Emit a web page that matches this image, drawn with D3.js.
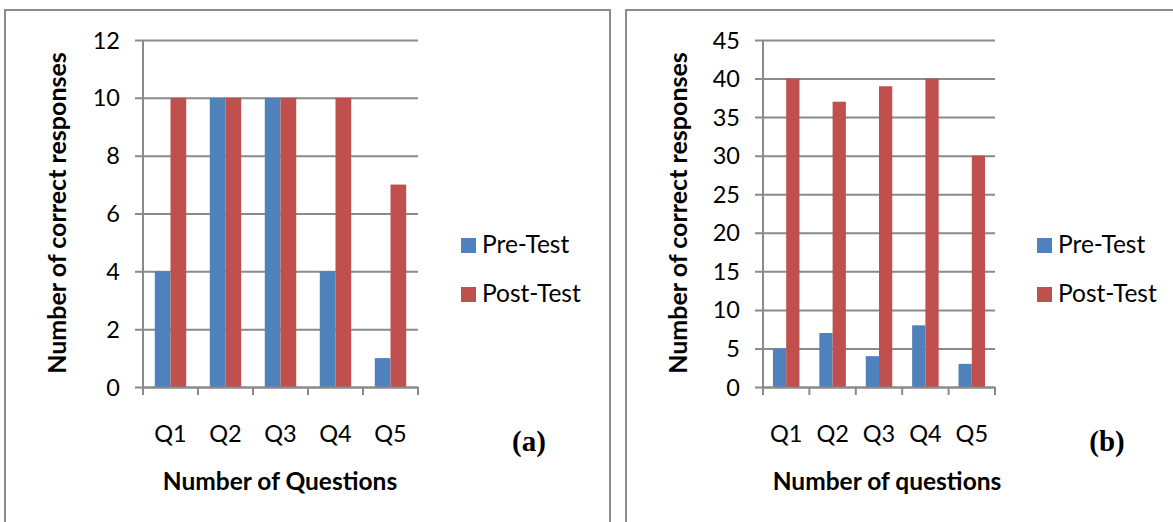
<!DOCTYPE html>
<html><head><meta charset="utf-8">
<script src="https://cdn.jsdelivr.net/npm/d3@7"></script>
<style>
html,body{margin:0;padding:0;background:#fff;}
svg{display:block;}
text{font-family:Lato,"Open Sans",sans-serif;fill:#000;}
</style></head>
<body>
<svg id="chart" width="1173" height="522"></svg>
<script>
const categories = ["Q1","Q2","Q3","Q4","Q5"];
const seriesNames = ["Pre-Test","Post-Test"];
const preTestA = [4,10,10,4,1];
const postTestA = [10,10,10,10,7];
const preTestB = [5,7,4,8,3];
const postTestB = [40,37,39,40,30];
const ticksA = [0,2,4,6,8,10,12];
const ticksB = [0,5,10,15,20,25,30,35,40,45];
const colors = ["#4F81BD","#C0504D"];

const svg = d3.select("#chart");

// panel frames
svg.append("rect").attr("x",5).attr("y",10).attr("width",605).attr("height",530)
  .attr("fill","none").attr("stroke","#8c8c8c").attr("stroke-width",2);
svg.append("rect").attr("x",626).attr("y",10).attr("width",600).attr("height",530)
  .attr("fill","none").attr("stroke","#8c8c8c").attr("stroke-width",2);

function panel(cfg){
  const g = svg.append("g");
  const x = d3.scaleBand().domain(categories).range([cfg.x0, cfg.x1]).padding(0);
  const bw = x.bandwidth();
  const gap = bw - bw/3.5*2;
  const xs = d3.scaleBand().domain(seriesNames).range([gap/2, bw-gap/2]).padding(0);
  const y = d3.scaleLinear().domain([0, cfg.max]).range([cfg.yb, cfg.yt]);

  // gridlines + y labels
  const ya = g.append("g").attr("transform",`translate(${cfg.x0},0)`)
    .call(d3.axisLeft(y).tickValues(cfg.ticks).tickSize(-(cfg.x1-cfg.x0)).tickPadding(0).tickFormat(d3.format("d")));
  ya.select(".domain").remove();
  ya.selectAll(".tick line").attr("x1",-8).attr("stroke","#8a8a8a").attr("stroke-width",2);
  ya.selectAll(".tick text").attr("x",-23).attr("dy","0.34em")
    .style("font-size","23.5px").style("font-family","Lato,'Open Sans',sans-serif").attr("fill","#000");

  // bars
  const data = categories.map((c,i)=>({c, vals:[cfg.pre[i], cfg.post[i]]}));
  const grp = g.selectAll("g.cat").data(data).join("g").attr("class","cat")
    .attr("transform",d=>`translate(${x(d.c)},0)`);
  grp.selectAll("rect").data(d=>d.vals.map((v,k)=>({s:seriesNames[k], v, k}))).join("rect")
    .attr("x",d=>xs(d.s)).attr("width",xs.bandwidth())
    .attr("y",d=>y(d.v)).attr("height",d=>y(0)-y(d.v))
    .attr("fill",d=>colors[d.k]);

  // y axis line
  g.append("line").attr("x1",cfg.x0).attr("x2",cfg.x0).attr("y1",cfg.yt).attr("y2",cfg.yb+1)
    .attr("stroke","#8a8a8a").attr("stroke-width",2);
  // x axis
  const xa = g.append("g").attr("transform",`translate(0,${cfg.yb})`)
    .call(d3.axisBottom(x).tickSize(0).tickPadding(38));
  xa.select(".domain").attr("stroke","#8a8a8a").attr("stroke-width",2);
  xa.selectAll(".tick text").style("font-size","23.5px").attr("fill","#000");
  const bounds = categories.map(c=>x(c)).concat([cfg.x1]);
  g.selectAll("line.xt").data(bounds).join("line").attr("class","xt")
    .attr("x1",d=>d).attr("x2",d=>d).attr("y1",cfg.yb).attr("y2",cfg.yb+8)
    .attr("stroke","#8a8a8a").attr("stroke-width",2);

  // axis titles
  g.append("text").attr("transform",`translate(${cfg.ytx},213) rotate(-90)`)
    .attr("text-anchor","middle").attr("dy","0.35em")
    .style("font-size","25px").style("font-weight","bold").text(cfg.ytitle);
  g.append("text").attr("x",cfg.xtx).attr("y",490).attr("text-anchor","middle")
    .style("font-size","24.5px").style("font-weight","bold").text(cfg.xtitle);

  // legend
  seriesNames.forEach((s,k)=>{
    g.append("rect").attr("x",cfg.lx).attr("y",238+k*49).attr("width",15).attr("height",15).attr("fill",colors[k]);
    g.append("text").attr("x",cfg.lx+21).attr("y",253+k*49).style("font-size","24.5px").text(s);
  });

  // panel label
  g.append("text").attr("x",cfg.labx).attr("y",451).attr("text-anchor","middle")
    .style("font-family","'Liberation Serif','Times New Roman',serif").style("font-weight","bold")
    .style("font-size","29px").text(cfg.label);
}

panel({x0:143, x1:418, yt:40, yb:387, max:12, ticks:ticksA, pre:preTestA, post:postTestA,
  ytx:57, xtx:280, ytitle:"Number of correct responses", xtitle:"Number of Questions", lx:461, labx:529, label:"(a)"});
panel({x0:763, x1:995, yt:40, yb:387, max:45, ticks:ticksB, pre:preTestB, post:postTestB,
  ytx:678, xtx:887, ytitle:"Number of correct responses", xtitle:"Number of questions", lx:1037, labx:1107, label:"(b)"});
</script>
</body></html>
